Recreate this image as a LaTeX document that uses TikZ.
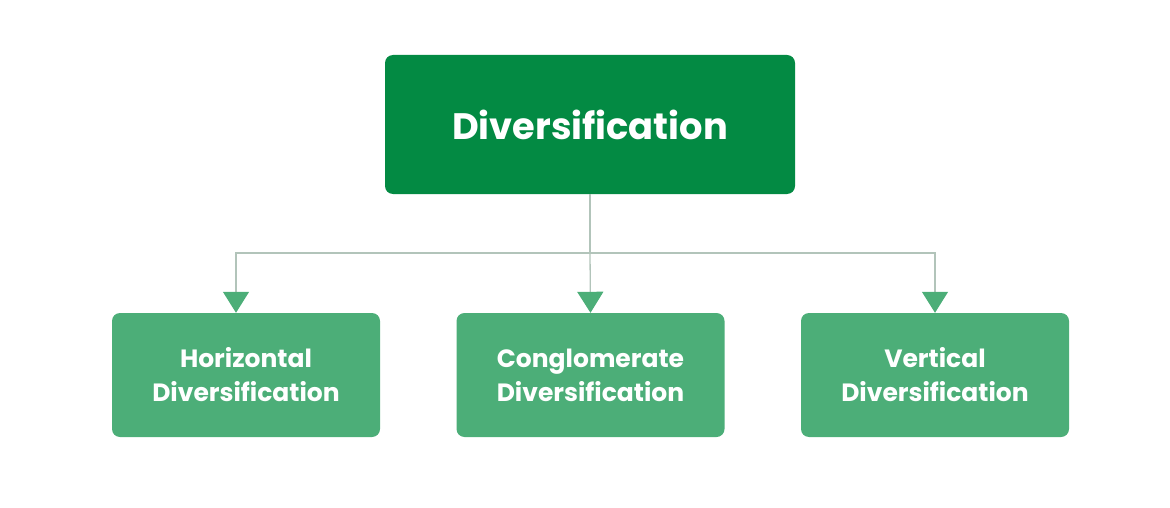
\documentclass[tikz,border=0pt]{standalone}
\usepackage{fontspec}
\setmainfont{Poppins}
\usetikzlibrary{arrows.meta,positioning}
\definecolor{topgreen}{RGB}{3,138,67}
\definecolor{subgreen}{RGB}{76,174,120}
\definecolor{linkgray}{RGB}{178,196,186}
\tikzset{
  divbox/.style={
    rounded corners=8pt, align=center, text=white,
    font=\bfseries, inner sep=0pt
  },
  topbox/.style={divbox, fill=topgreen, minimum width=410pt,
    minimum height=139pt, font=\fontsize{36.8}{42}\selectfont\bfseries},
  subbox/.style={divbox, fill=subgreen, minimum width=268pt,
    minimum height=124pt, font=\fontsize{25}{34}\selectfont\bfseries},
  link/.style={draw=linkgray, line width=1.3pt},
  arr/.style={link, -{Triangle[width=26pt,length=21pt,color=subgreen]}}
}
\begin{document}
\begin{tikzpicture}[x=1pt,y=-1pt]
  \useasboundingbox (0,0) rectangle (1170,508);
  \node[topbox] (div) at (590,124.5) {Diversification};
  \node[subbox] (hor) at (246,375) {Horizontal\\Diversification};
  \node[subbox] (con) at (590.5,375) {Conglomerate\\Diversification};
  \node[subbox] (ver) at (935,375) {Vertical\\Diversification};
  \coordinate (bus) at (590,253);
  \draw[link] (div.south) -- (bus);
  \draw[arr] (bus) -| ([xshift=-10pt]hor.north);
  \draw[arr] (bus) -- (con.north);
  \draw[arr] (bus) -| (ver.north);
\end{tikzpicture}
\end{document}
